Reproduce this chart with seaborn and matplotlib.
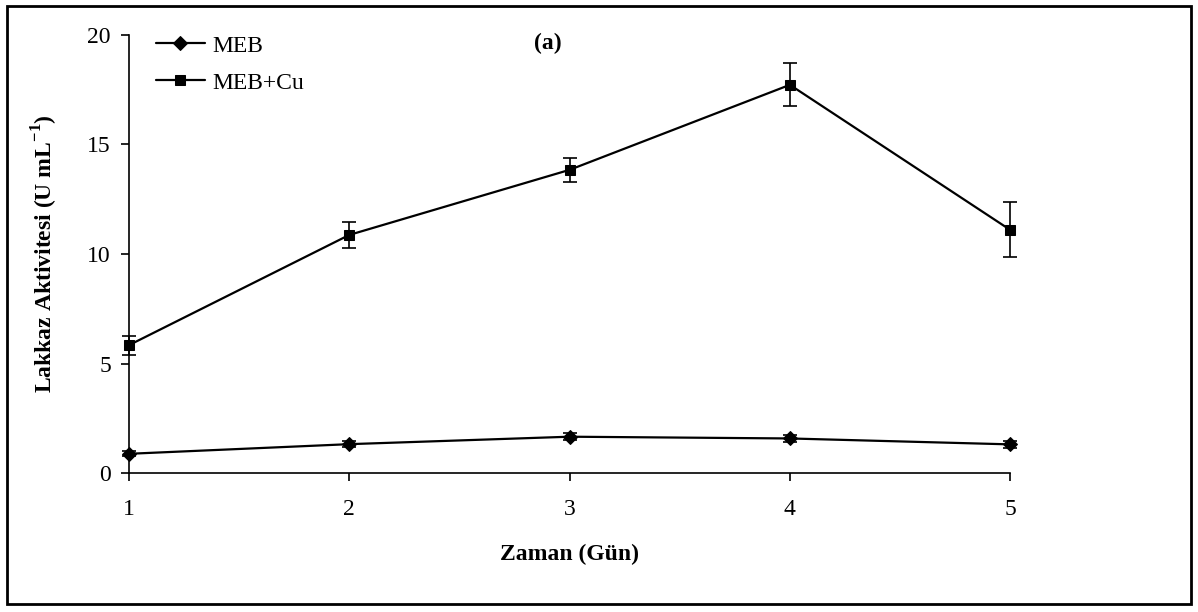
import numpy as np
import pandas as pd
import matplotlib
matplotlib.use("Agg")
import matplotlib.pyplot as plt
import seaborn as sns
from matplotlib.patches import Rectangle

# --------------------------------------------------------------
# Data
# --------------------------------------------------------------
days = [1, 2, 3, 4, 5]
meb = [0.88, 1.32, 1.66, 1.58, 1.31]
meb_err = [0.12, 0.15, 0.15, 0.15, 0.15]
meb_cu = [5.84, 10.87, 13.84, 17.72, 11.1]
meb_cu_err = [0.43, 0.6, 0.55, 0.98, 1.25]

df = pd.DataFrame({
    "Zaman": days * 2,
    "Aktivite": meb + meb_cu,
    "Seri": ["MEB"] * 5 + ["MEB+Cu"] * 5,
})

# Plot settings
sns.set_style("ticks")
plt.rcParams["font.family"] = ["Liberation Serif", "DejaVu Serif"]
plt.rcParams["mathtext.fontset"] = "custom"
plt.rcParams["mathtext.rm"] = "Liberation Serif"
plt.rcParams["mathtext.bf"] = "Liberation Serif:bold"
plt.rcParams["text.color"] = "black"
plt.rcParams["axes.labelcolor"] = "black"

fig = plt.figure(figsize=(11.98, 6.12), dpi=100)
ax = fig.add_axes([0.1077, 0.227, 0.7355, 0.716])

sns.lineplot(data=df, x="Zaman", y="Aktivite", hue="Seri", style="Seri",
             markers={"MEB": "D", "MEB+Cu": "s"}, dashes=False,
             palette={"MEB": "black", "MEB+Cu": "black"},
             markersize=7, markeredgecolor="black", linewidth=1.6,
             clip_on=False, ax=ax)

for yv, ye in [(meb, meb_err), (meb_cu, meb_cu_err)]:
    eb = ax.errorbar(days, yv, yerr=ye, fmt="none", ecolor="black",
                     elinewidth=1.2, capsize=5, capthick=1.2)
    for art in eb.lines[1] + eb.lines[2]:
        art.set_clip_on(False)

ax.set_xlim(1, 5)
ax.set_ylim(0, 20)
ax.set_xticks(days)
ax.set_yticks([0, 5, 10, 15, 20])
ax.tick_params(labelsize=17, length=6, width=1.2, colors="black")
ax.tick_params(axis="x", pad=13)
ax.tick_params(axis="y", pad=7)
for side in ["top", "right"]:
    ax.spines[side].set_visible(False)
for side in ["left", "bottom"]:
    ax.spines[side].set_linewidth(1.2)
    ax.spines[side].set_color("black")

ax.set_xlabel("Zaman (Gün)", fontsize=17, fontweight="bold", labelpad=17)
ax.set_ylabel(r"Lakkaz Aktivitesi (U mL$^{\mathbf{-1}}$)", fontsize=17,
              fontweight="bold", labelpad=20)
ax.text(2.9, 19.6, "(a)", fontsize=17, fontweight="bold", ha="center", va="center")

leg = ax.legend(loc="upper left", bbox_to_anchor=(0.006, 1.048), frameon=False,
                fontsize=17, handlelength=2.1, handletextpad=0.3, labelspacing=0.65)
leg.set_title(None)

# outer frame
fig.patches.append(Rectangle((0.006, 0.013), 0.988, 0.978, transform=fig.transFigure,
                             fill=False, edgecolor="black", linewidth=2))

fig.savefig("out.png", dpi=100)
